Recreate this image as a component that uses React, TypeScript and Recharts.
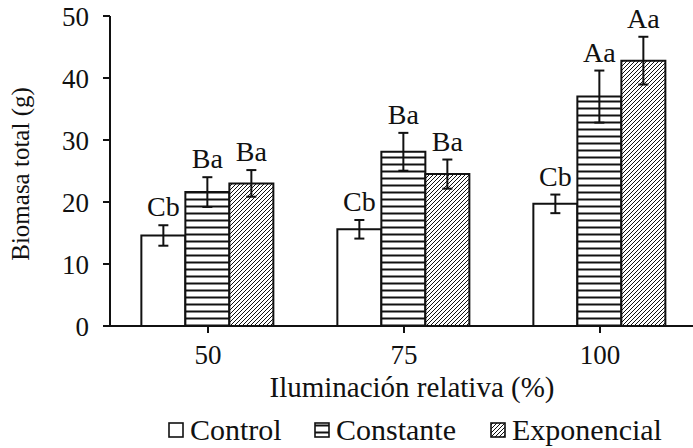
import React from 'react';
import { BarChart, Bar, XAxis, YAxis, ErrorBar, LabelList, Legend } from 'recharts';

// values
const categories = ['50', '75', '100'];
const control = [14.6, 15.6, 19.7];
const controlErr = [1.65, 1.5, 1.5];
const constante = [21.6, 28.1, 37.0];
const constanteErr = [2.4, 3.05, 4.2];
const exponencial = [23.0, 24.5, 42.8];
const exponencialErr = [2.15, 2.35, 3.85];
const controlLetters = ['Cb', 'Cb', 'Cb'];
const constanteLetters = ['Ba', 'Ba', 'Aa'];
const exponencialLetters = ['Ba', 'Ba', 'Aa'];
const yTicks = [0, 10, 20, 30, 40, 50];

const data = categories.map((name, i) => ({
  name,
  control: control[i],
  controlErr: controlErr[i],
  controlLetter: controlLetters[i],
  constante: constante[i],
  constanteErr: constanteErr[i],
  constanteLetter: constanteLetters[i],
  exponencial: exponencial[i],
  exponencialErr: exponencialErr[i],
  exponencialLetter: exponencialLetters[i],
}));

const FONT = "'Liberation Serif', serif";
const INK = '#111';

const makeLetter = (values: number[], errs: number[]) => (props: any) => {
  const x = Number(props.x);
  const y = Number(props.y);
  const w = Number(props.width);
  const h = Number(props.height);
  const i = props.index;
  const perUnit = h / values[i];
  const top = y - errs[i] * perUnit;
  return (
    <text x={x + w / 2} y={top - 9} textAnchor="middle" fontSize={28} fontFamily={FONT} fill={INK}>
      {props.value}
    </text>
  );
};

const legendItems = [
  { label: 'Control', fill: '#fff', left: 168 },
  { label: 'Constante', fill: 'url(#hLines)', left: 314 },
  { label: 'Exponencial', fill: 'url(#diag)', left: 490 },
];

const renderLegend = () => (
  <div style={{ position: 'relative', height: 36, fontFamily: FONT, fontSize: 30, color: INK }}>
    {legendItems.map((it) => (
      <React.Fragment key={it.label}>
        <svg width={16} height={16} style={{ position: 'absolute', left: it.left, top: 10 }}>
          <rect x={1} y={1} width={14} height={14} fill={it.fill} stroke={INK} strokeWidth={1.6} />
        </svg>
        <span style={{ position: 'absolute', left: it.left + 22, top: 3, lineHeight: '30px', whiteSpace: 'nowrap' }}>
          {it.label}
        </span>
      </React.Fragment>
    ))}
  </div>
);

export default function App() {
  return (
    <div style={{ position: 'absolute', left: 0, top: 0, width: 693, height: 448, overflow: 'hidden', background: '#fff' }}>
      <BarChart
        width={700}
        height={448}
        data={data}
        margin={{ top: 16, right: 2, left: 0, bottom: 0 }}
        barCategoryGap="16%"
        barGap={0}
      >
        <defs>
          <pattern id="hLines" width={8} height={7} patternUnits="userSpaceOnUse">
            <rect width={8} height={7} fill="#fff" />
            <line x1={0} y1={3.5} x2={8} y2={3.5} stroke={INK} strokeWidth={2} />
          </pattern>
          <pattern id="diag" width={4} height={4} patternUnits="userSpaceOnUse">
            <rect width={4} height={4} fill="#fff" />
            <path d="M-1,1 l2,-2 M0,4 l4,-4 M3,5 l2,-2" stroke={INK} strokeWidth={1} />
          </pattern>
        </defs>
        <XAxis
          dataKey="name"
          height={86}
          axisLine={{ stroke: INK, strokeWidth: 2 }}
          tickLine={{ stroke: INK, strokeWidth: 2 }}
          tickSize={7}
          tickMargin={12}
          tick={{ fill: INK, fontSize: 27, fontFamily: FONT }}
          label={(p: any) => {
            const vb = p.viewBox;
            return (
              <text x={412} y={vb.y + 71} textAnchor="middle" fontSize={29} fontFamily={FONT} fill={INK}>
                Iluminación relativa (%)
              </text>
            );
          }}
        />
        <YAxis
          width={110}
          domain={[0, 50]}
          ticks={yTicks}
          axisLine={{ stroke: INK, strokeWidth: 2 }}
          tickLine={{ stroke: INK, strokeWidth: 2 }}
          tickSize={7}
          tickMargin={14}
          tick={{ fill: INK, fontSize: 27, fontFamily: FONT }}
          label={() => (
            <text
              x={29}
              y={174}
              transform="rotate(-90 29 174)"
              textAnchor="middle"
              fontSize={25}
              fontFamily={FONT}
              fill={INK}
            >
              Biomasa total (g)
            </text>
          )}
        />
        <Legend
          verticalAlign="bottom"
          height={36}
          content={renderLegend}
          wrapperStyle={{ left: 0, width: 700, height: 36 }}
        />
        <Bar dataKey="control" name="Control" fill="#fff" stroke={INK} strokeWidth={2} isAnimationActive={false}>
          <ErrorBar dataKey="controlErr" stroke={INK} strokeWidth={2} width={5} />
          <LabelList dataKey="controlLetter" content={makeLetter(control, controlErr)} />
        </Bar>
        <Bar dataKey="constante" name="Constante" fill="url(#hLines)" stroke={INK} strokeWidth={2} isAnimationActive={false}>
          <ErrorBar dataKey="constanteErr" stroke={INK} strokeWidth={2} width={5} />
          <LabelList dataKey="constanteLetter" content={makeLetter(constante, constanteErr)} />
        </Bar>
        <Bar dataKey="exponencial" name="Exponencial" fill="url(#diag)" stroke={INK} strokeWidth={2} isAnimationActive={false}>
          <ErrorBar dataKey="exponencialErr" stroke={INK} strokeWidth={2} width={5} />
          <LabelList dataKey="exponencialLetter" content={makeLetter(exponencial, exponencialErr)} />
        </Bar>
      </BarChart>
    </div>
  );
}
